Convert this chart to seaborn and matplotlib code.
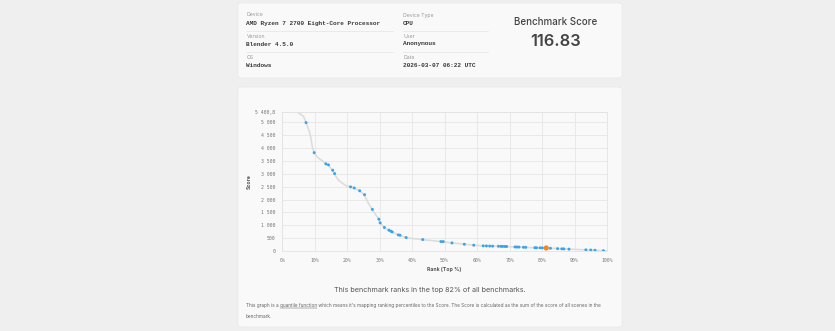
import matplotlib
matplotlib.use("Agg")
import matplotlib.pyplot as plt
from matplotlib.patches import FancyBboxPatch
from matplotlib.lines import Line2D
from matplotlib.ticker import FixedLocator, FuncFormatter
import seaborn as sns
import pandas as pd

# ---- benchmark details ----
info_left = [("Device", "AMD Ryzen 7 2700 Eight-Core Processor"),
             ("Version", "Blender 4.5.0"),
             ("OS", "Windows")]
info_right = [("Device Type", "CPU"),
              ("User", "Anonymous"),
              ("Date", "2026-03-07 06:22 UTC")]
score_title = "Benchmark Score"
this_score = 116.83
this_rank = 81.3

# ---- quantile curve (rank %, score) ----
curve_rank = [4.6, 5.5, 6.6, 7.4, 8.4, 8.9, 9.3, 9.85, 11.2, 12.7, 13.5, 14.2, 15.6, 16.1,
              17.3, 18.9, 19.9, 21.1, 22.2, 23.8, 25.3, 26.6, 27.8, 29.1, 29.9, 30.2,
              31.4, 32.7, 33.4, 33.9, 35.5, 36.3, 38.2, 43.3, 48.9, 52.3, 56.1, 59.0,
              62.0, 66.6, 71.7, 74.3, 77.8, 81.3, 84.8, 88.3, 93.5, 96.3, 98.9, 100.0]
curve_score = [5400.8, 5330, 5234, 4987, 4648, 4390, 4063, 3816, 3609, 3477, 3385, 3346, 3125, 2996,
               2762, 2605, 2527, 2495, 2449, 2344, 2188, 1851, 1610, 1355, 1230, 1094,
               925, 809, 765, 742, 635, 605, 515, 440, 367, 313, 265, 225,
               198, 182, 158, 145, 125, 116.83, 92, 72, 45, 30, 12, 3]

# ---- sampled benchmarks (rank %, score) ----
sample_rank = [7.4, 9.9, 13.5, 14.3, 15.6, 16.2, 21.1, 22.2, 23.9, 25.4, 27.8, 29.8, 30.2,
               31.5, 32.9, 33.5, 33.9, 35.8, 36.3, 38.2, 43.3, 48.9, 49.6, 52.3, 56.1, 59.0,
               61.9, 62.9, 63.9, 64.8, 66.6, 67.4, 67.9, 68.6, 69.1, 71.7, 72.3, 72.9, 74.3,
               75.0, 77.8, 78.3, 79.4, 80.1, 82.6, 84.8, 86.1, 86.7, 88.3, 93.5, 95.0, 96.3, 98.9]
sample_score = [4987, 3820, 3385, 3346, 3138, 3008, 2490, 2449, 2340, 2188, 1617, 1235, 1094,
                914, 809, 770, 742, 625, 612, 523, 445, 367, 365, 313, 262, 225,
                200, 197, 192, 188, 184, 181, 179, 177, 175, 157, 155, 153, 145,
                142, 128, 126, 124, 121, 106, 92, 85, 82, 72, 45, 38, 30, 12]

x_ticks = [0, 10, 20, 30, 40, 50, 60, 70, 80, 90, 100]
y_ticks = [0, 500, 1000, 1500, 2000, 2500, 3000, 3500, 4000, 4500, 5000, 5400.8]

sns.set_theme(style="white")
plt.rcParams["font.family"] = ["Inter", "DejaVu Sans"]

W, H = 835, 331
PAGE = "#efefef"
CARD = "#f9f9f9"
fig = plt.figure(figsize=(W / 100, H / 100), dpi=100, facecolor=PAGE)


def fx(x):
    return x / W


def fy(y):
    return 1 - y / H


def card(x0, y0, x1, y1):
    fig.patches.append(FancyBboxPatch((fx(x0), fy(y1)), fx(x1) - fx(x0), fy(y0) - fy(y1),
                                      boxstyle="round,pad=0,rounding_size=0.006",
                                      transform=fig.transFigure, facecolor=CARD,
                                      edgecolor="#e9e9e9", linewidth=0.5, zorder=-5))


card(238, 3, 622, 78)
card(238, 87, 622, 327)

# ---- details card ----
label_kw = dict(fontsize=3.7, color="#9a9a9a", va="center", ha="left")
value_kw = dict(fontsize=4.4, color="#3a3a3a", va="center", ha="left",
                family="Liberation Mono", weight="bold")
label_ys = [15, 36, 57.5]
value_ys = [23.4, 44, 65.8]
for col_x, rows, sep_end in [(246.5, info_left, 393), (403, info_right, 488)]:
    for (lab, val), ly, vy in zip(rows, label_ys, value_ys):
        fig.text(fx(col_x), fy(ly), lab, **label_kw)
        fig.text(fx(col_x), fy(vy), val, **value_kw)
    for sy in (30.5, 52.3):
        fig.add_artist(Line2D([fx(col_x), fx(sep_end)], [fy(sy), fy(sy)],
                              transform=fig.transFigure, color="#e4e4e4", lw=0.5))

fig.text(fx(555.5), fy(22), score_title, fontsize=7.0, color="#444444",
         ha="center", va="center", weight="medium")
fig.text(fx(555.5), fy(42), f"{this_score:.2f}", fontsize=11.8, color="#444444",
         ha="center", va="center", weight="semibold")

# ---- quantile chart ----
ax_l, ax_r, ax_t, ax_b = 282, 607, 112, 251
ax = fig.add_axes([fx(ax_l), fy(ax_b), fx(ax_r) - fx(ax_l), fy(ax_t) - fy(ax_b)])
ax.set_facecolor(CARD)

curve = pd.DataFrame({"rank": curve_rank, "score": curve_score})
samples = pd.DataFrame({"rank": sample_rank, "score": sample_score})

sns.lineplot(data=curve, x="rank", y="score", ax=ax, color="#dddddd", lw=1.2,
             sort=False, zorder=2)
sns.scatterplot(data=samples, x="rank", y="score", ax=ax, color="#3aa3ea", s=4.5,
                marker="o", edgecolor="none", zorder=3)
sns.scatterplot(x=[this_rank], y=[this_score], ax=ax, color="#f0862a", s=14,
                edgecolor="none", zorder=4)

ax.set_xlim(0, 100)
ax.set_ylim(0, max(curve_score))
ax.xaxis.set_major_locator(FixedLocator(x_ticks))
ax.yaxis.set_major_locator(FixedLocator(y_ticks))
ax.xaxis.set_major_formatter(FuncFormatter(lambda v, p: f"{v:.0f}%"))


def fmt_score(v, p):
    if abs(v - round(v)) > 1e-6:
        whole, frac = f"{v:.1f}".split(".")
        return f"{int(whole):,}".replace(",", " ") + "," + frac
    return f"{int(round(v)):,}".replace(",", " ")


ax.yaxis.set_major_formatter(FuncFormatter(fmt_score))
ax.grid(True, color="#e6e6e6", lw=0.6)
for s in ax.spines.values():
    s.set_color("#e3e3e3")
    s.set_linewidth(0.6)
ax.tick_params(axis="both", labelsize=3.5, colors="#777777", length=2.5, width=0.5,
               pad=2.5)
ax.tick_params(axis="both", color="#e3e3e3")
for t in ax.get_xticklabels() + ax.get_yticklabels():
    t.set_family("DejaVu Sans Mono")
ax.set_xlabel("")
ax.set_ylabel("")

fig.text(fx(249.5), fy(182), "Score", rotation=90, fontsize=3.7, color="#555555",
         ha="center", va="center", weight="bold")
fig.text(fx(444.5), fy(269), "Rank (Top %)", fontsize=3.7, color="#555555",
         ha="center", va="center", weight="bold")

fig.text(fx(430), fy(290), "This benchmark ranks in the top 82% of all benchmarks.",
         fontsize=5.2, color="#555555", ha="center", va="center")

# caption with an underlined link phrase
cap_kw = dict(fontsize=3.4, color="#666666", va="baseline", ha="left")
cap_y = fy(307.5)
parts = ["This graph is a ", "quantile function",
         " which means it's mapping ranking percentiles to the Score. The Score is "
         "calculated as the sum of the score of all scenes in the"]
fig.canvas.draw()
renderer = fig.canvas.get_renderer()
x_cur = fx(246)
for i, part in enumerate(parts):
    t = fig.text(x_cur, cap_y, part, **cap_kw)
    bb = t.get_window_extent(renderer).transformed(fig.transFigure.inverted())
    if i == 1:
        fig.add_artist(Line2D([bb.x0, bb.x1], [cap_y - 0.6 / H, cap_y - 0.6 / H],
                              transform=fig.transFigure, color="#666666", lw=0.35))
    x_cur = bb.x1
fig.text(fx(246), fy(317.5), "benchmark.", **cap_kw)

fig.savefig("out.png", dpi=100, facecolor=PAGE)
